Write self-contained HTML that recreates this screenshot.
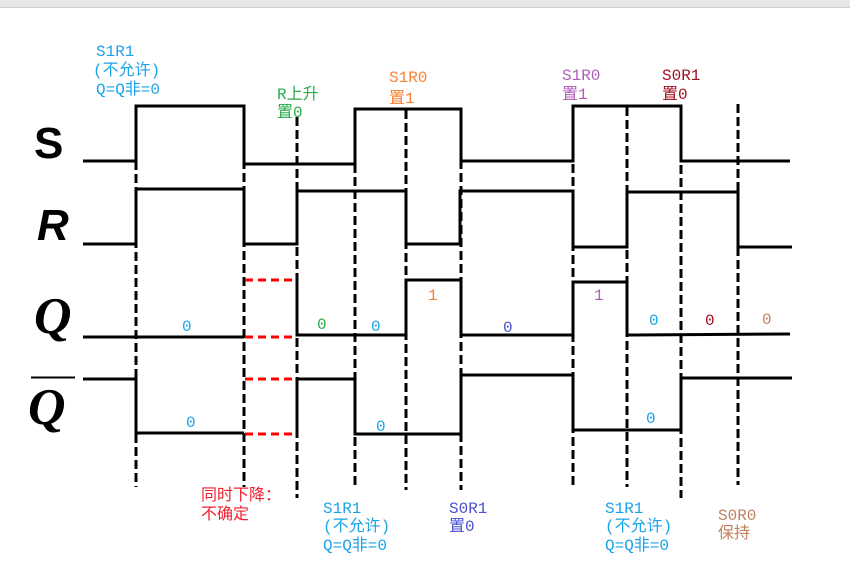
<!DOCTYPE html>
<html><head><meta charset="utf-8"><style>
body{margin:0;width:850px;height:588px;background:#fff;overflow:hidden}
svg{display:block}
.t{font-family:"Liberation Mono","Noto Sans CJK SC",monospace;font-size:16px}
</style></head><body>
<svg width="850" height="588" viewBox="0 0 850 588">
<rect x="0" y="0" width="850" height="7" fill="#e6e6e6"/>
<line x1="0" y1="7.5" x2="850" y2="7.5" stroke="#cfcfcf" stroke-width="1"/>
<g stroke="#000" stroke-width="3" stroke-dasharray="9,4" fill="none">
<line x1="136" y1="161" x2="136" y2="487"/>
<line x1="244" y1="108" x2="244" y2="487"/>
<line x1="297" y1="117" x2="297" y2="498"/>
<line x1="355" y1="164" x2="355" y2="487"/>
<line x1="406" y1="110" x2="406" y2="490"/>
<line x1="461" y1="108" x2="461" y2="490"/>
<line x1="573" y1="164" x2="573" y2="487"/>
<line x1="627" y1="107" x2="627" y2="487"/>
<line x1="681" y1="165" x2="681" y2="498"/>
<line x1="738" y1="104" x2="738" y2="485"/>
</g>
<g stroke="#000" stroke-width="3" fill="none">
<polyline points="83,161 136,161 136,106 244,106 244,164 355,164 355,109 461,109 461,161 573,161 573,106 681,106 681,161 790,161"/>
<polyline points="83,244 136,244 136,189 244,189 244,244 297,244 297,191 406,191 406,244 460,244 460,191 573,191 573,247 627,247 627,192 738,192 738,247 792,247"/>
<polyline points="83,337 244,337"/>
<polyline points="297,280 297,335 406,335 406,280 461,280 461,335 573,335 573,282 627,282 627,335 790,334"/>
<polyline points="83,379 136,379 136,433 244,433"/>
<polyline points="297,434 297,379 355,379 355,434 461,434 461,375 573,375 573,430 681,430 681,378 792,378"/>
</g>
<g stroke="#f00" stroke-width="3" stroke-dasharray="8,5">
<line x1="245" y1="280" x2="297" y2="280"/>
<line x1="245" y1="337" x2="297" y2="337"/>
<line x1="245" y1="379" x2="297" y2="379"/>
<line x1="245" y1="434" x2="297" y2="434"/>
</g>
<text x="34" y="158" font-family="Liberation Sans,sans-serif" font-weight="bold" font-size="44">S</text>
<text x="37" y="240" font-family="Liberation Sans,sans-serif" font-weight="bold" font-style="italic" font-size="44">R</text>
<text x="34" y="333" font-family="Liberation Serif,serif" font-weight="bold" font-style="italic" font-size="52">Q</text>
<line x1="31" y1="377.5" x2="75" y2="377.5" stroke="#000" stroke-width="2"/>
<text x="28" y="424" font-family="Liberation Serif,serif" font-weight="bold" font-style="italic" font-size="52">Q</text>
<g class="t">
<text fill="#1aa3e8"><tspan x="96" y="56">S1R1</tspan><tspan x="93" y="75">(不允许)</tspan><tspan x="96" y="94">Q=Q非=0</tspan></text>
<text fill="#2aaa48"><tspan x="277" y="99">R上升</tspan><tspan x="277" y="117">置0</tspan></text>
<text fill="#f58233"><tspan x="389" y="82">S1R0</tspan><tspan x="389" y="103">置1</tspan></text>
<text fill="#b05cb8"><tspan x="562" y="80">S1R0</tspan><tspan x="562" y="99">置1</tspan></text>
<text fill="#a01020"><tspan x="662" y="80">S0R1</tspan><tspan x="662" y="99">置0</tspan></text>
<text fill="#f02030"><tspan x="201" y="500">同时下降：</tspan><tspan x="201" y="519">不确定</tspan></text>
<text fill="#1aa3e8"><tspan x="323" y="513">S1R1</tspan><tspan x="323" y="531">(不允许)</tspan><tspan x="323" y="550">Q=Q非=0</tspan></text>
<text fill="#4a50d0"><tspan x="449" y="513">S0R1</tspan><tspan x="449" y="531">置0</tspan></text>
<text fill="#1aa3e8"><tspan x="605" y="513">S1R1</tspan><tspan x="605" y="531">(不允许)</tspan><tspan x="605" y="550">Q=Q非=0</tspan></text>
<text fill="#c08060"><tspan x="718" y="520">S0R0</tspan><tspan x="718" y="538">保持</tspan></text>
<text x="182" y="331" fill="#1aa3e8">0</text>
<text x="186" y="427" fill="#1aa3e8">0</text>
<text x="317" y="329" fill="#2aaa48">0</text>
<text x="371" y="331" fill="#1aa3e8">0</text>
<text x="376" y="431" fill="#1aa3e8">0</text>
<text x="428" y="300" fill="#f58233">1</text>
<text x="503" y="332" fill="#4a50d0">0</text>
<text x="594" y="300" fill="#b05cb8">1</text>
<text x="649" y="325" fill="#1aa3e8">0</text>
<text x="705" y="325" fill="#a01020">0</text>
<text x="762" y="324" fill="#c08060">0</text>
<text x="646" y="423" fill="#1aa3e8">0</text>
</g>
</svg>
</body></html>
